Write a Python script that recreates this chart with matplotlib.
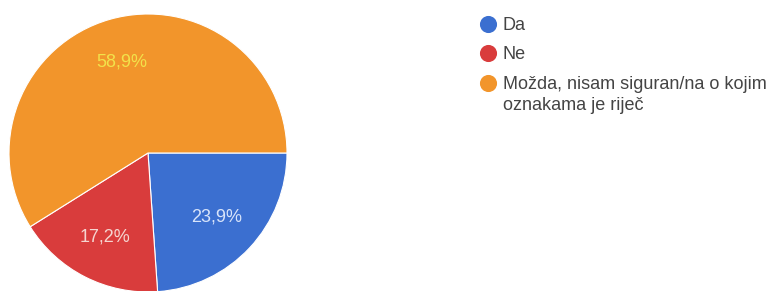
import matplotlib.pyplot as plt

# Survey answers (percent)
labels = ['Da', 'Ne', 'Možda, nisam siguran/na o kojim\noznakama je riječ']
values = [23.9, 17.2, 58.9]
colors = ['#3b6fd0', '#d93c3c', '#f2952b']
pct_colors = ['#d8e4fa', '#f5d5d0', '#f2e24a']

plt.rcParams['font.family'] = ['Liberation Sans', 'DejaVu Sans']

W, H = 778, 291
fig = plt.figure(figsize=(W / 100, H / 100), dpi=100)
fig.patch.set_facecolor('white')

# pie: center (148, 153) px, radius 139 px
cx, cy, r = 148, 153, 139
ax = fig.add_axes([(cx - r) / W, (H - cy - r) / H, 2 * r / W, 2 * r / H])
wedges, _, autotexts = ax.pie(
    values, colors=colors, startangle=0, counterclock=False,
    autopct=lambda p: f'{p:.1f}%'.replace('.', ','), pctdistance=0.68,
    wedgeprops=dict(edgecolor='white', linewidth=0.8),
    textprops=dict(fontsize=13))
for t, c in zip(autotexts, pct_colors):
    t.set_color(c)
ax.set_xlim(-1, 1)
ax.set_ylim(-1, 1)
ax.set_aspect('equal')

# legend drawn in pixel coordinates
lax = fig.add_axes([0, 0, 1, 1])
lax.set_xlim(0, W)
lax.set_ylim(H, 0)
lax.axis('off')
leg_y = [24, 53, 83]
for y, lab, c in zip(leg_y, labels, colors):
    lax.plot([488], [y], 'o', ms=11.3, color=c, mec=c)
    lax.text(503, y - 7, lab, fontsize=13, color='#444444',
             va='top', ha='left', linespacing=1.3)

fig.savefig('out.png', dpi=100)
